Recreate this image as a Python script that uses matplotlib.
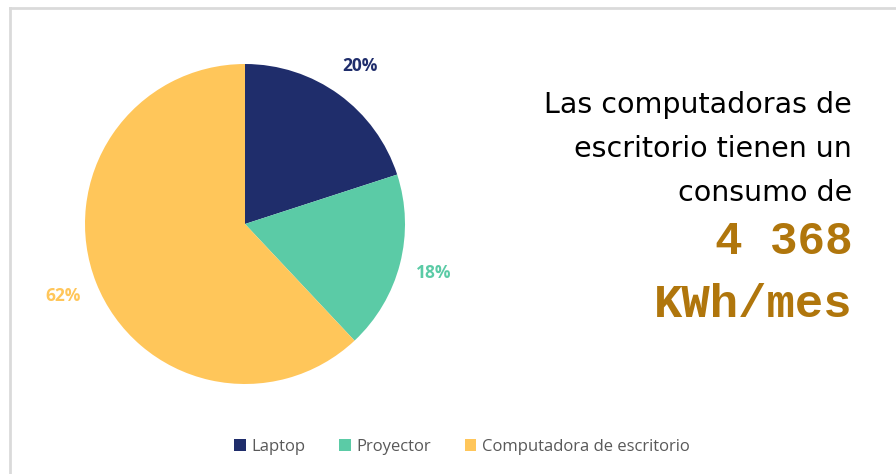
import matplotlib
matplotlib.use("Agg")
import matplotlib.pyplot as plt
from matplotlib.lines import Line2D
from matplotlib.patches import Patch

categories = ["Laptop", "Proyector", "Computadora de escritorio"]
values = [20, 18, 62]
labels_pct = ["20%", "18%", "62%"]
colors = ["#1F2D6B", "#5BCBA6", "#FFC65A"]

W, H = 896, 474
fig = plt.figure(figsize=(W / 100, H / 100), dpi=100)
fig.patch.set_facecolor("white")

# frame lines (top and left visible)
fig.add_artist(Line2D([9.5 / W, 1.0], [1 - 8 / H, 1 - 8 / H], color="#DADADA", lw=2.0))
fig.add_artist(Line2D([9.5 / W, 9.5 / W], [0.0, 1 - 8 / H], color="#DADADA", lw=2.0))

cx, cy, r = 245, 224, 160
ax = fig.add_axes([(cx - r) / W, (H - cy - r) / H, 2 * r / W, 2 * r / H])
wedges, texts = ax.pie(values, colors=colors, startangle=90, counterclock=False,
                       labels=labels_pct, labeldistance=1.22,
                       wedgeprops=dict(linewidth=0))
for t, c in zip(texts, colors):
    t.set_color(c)
    t.set_fontsize(12.5)
    t.set_fontweight("bold")
    t.set_family("Open Sans")
    t.set_ha("center")
    t.set_va("center")
    t.set_clip_on(False)
ax.set_xlim(-1, 1)
ax.set_ylim(-1, 1)
ax.set_aspect("auto")

# right text
xr = 852 / W
for txt, yy in [("Las computadoras de", 105), ("escritorio tienen un", 149), ("consumo de", 193)]:
    fig.text(xr, 1 - yy / H, txt, ha="right", va="center", fontsize=20.5,
             family="DejaVu Sans", color="black")
gold = "#B0760C"
fig.text(xr, 1 - 242 / H, "4 368", ha="right", va="center", fontsize=33,
         family="Liberation Mono", fontweight="bold", color=gold)
fig.text(xr, 1 - 305 / H, "KWh/mes", ha="right", va="center", fontsize=34,
         family="Liberation Mono", fontweight="bold", color=gold)

handles = [Patch(facecolor=c, edgecolor="none") for c in colors]
leg = fig.legend(handles, categories, loc="center", bbox_to_anchor=(462 / W, 1 - 447 / H),
                 ncol=3, frameon=False, fontsize=12, handlelength=0.7, handleheight=0.7,
                 handletextpad=0.35, columnspacing=2.0)
for t in leg.get_texts():
    t.set_color("#595959")
    t.set_family("Open Sans")

fig.savefig("out.png", dpi=100, facecolor="white")
